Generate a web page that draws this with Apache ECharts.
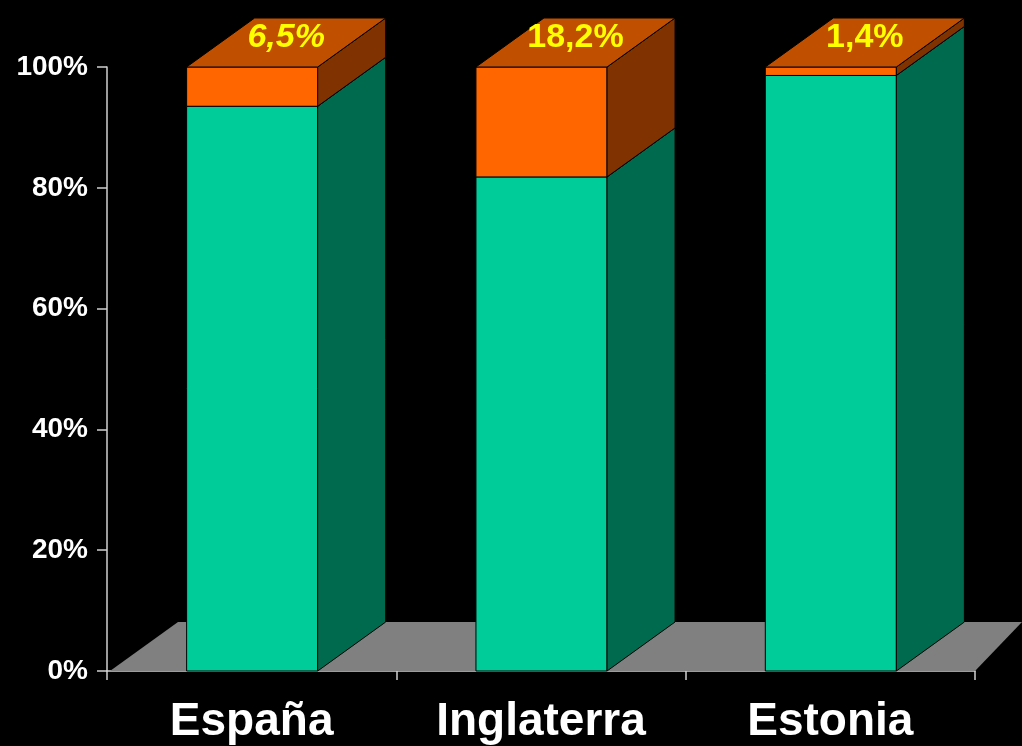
<!DOCTYPE html>
<html>
<head>
<meta charset="utf-8">
<script src="https://cdn.jsdelivr.net/npm/echarts@6/dist/echarts.min.js"></script>
<style>
  html, body { margin: 0; padding: 0; background: #000; }
  #chart { width: 1022px; height: 746px; }
</style>
</head>
<body>
<div id="chart"></div>
<script>
// datos
const countries = ['España', 'Inglaterra', 'Estonia']
const restShare = [93.5, 81.8, 98.6]
const topShare = [6.5, 18.2, 1.4]
const yTicks = [0, 20, 40, 60, 80, 100]

const font = 'Arial, "Liberation Sans", sans-serif'
const depthX = 68
const depthY = 49
const barRatio = 0.453

const chart = echarts.init(document.getElementById('chart'))

function box(api, idx, lo, hi, colors, withTop) {
  const band = api.size([1, 0])[0]
  const w = band * barRatio
  const c = api.coord([idx, lo])
  const t = api.coord([idx, hi])
  const x0 = c[0] - w / 2 + 0.5
  const x1 = x0 + w
  const y0 = c[1]
  const y1 = t[1]
  const line = { stroke: '#000', lineWidth: 1 }
  const kids = [
    { type: 'polygon', shape: { points: [[x0, y0], [x1, y0], [x1, y1], [x0, y1]] },
      style: Object.assign({ fill: colors[0] }, line) },
    { type: 'polygon', shape: { points: [[x1, y0], [x1 + depthX, y0 - depthY], [x1 + depthX, y1 - depthY], [x1, y1]] },
      style: Object.assign({ fill: colors[1] }, line) }
  ]
  if (withTop) {
    kids.push({ type: 'polygon', shape: { points: [[x0, y1], [x1, y1], [x1 + depthX, y1 - depthY], [x0 + depthX, y1 - depthY]] },
      style: Object.assign({ fill: colors[2] }, line) })
  }
  return { x0, x1, y1, kids }
}

const option = {
  backgroundColor: '#000',
  animation: false,
  grid: { left: 107, right: 47, top: 67, bottom: 75 },
  xAxis: {
    type: 'category',
    data: countries,
    boundaryGap: true,
    axisLine: { lineStyle: { color: '#d0d0d0', width: 1.5 } },
    axisTick: { show: true, length: 9, lineStyle: { color: '#d0d0d0', width: 1.5 } },
    axisLabel: { color: '#fff', fontSize: 46, fontWeight: 'bold', fontFamily: font, margin: 28 }
  },
  yAxis: {
    type: 'value',
    min: yTicks[0],
    max: yTicks[yTicks.length - 1],
    interval: yTicks[1] - yTicks[0],
    splitLine: { show: false },
    axisLine: { show: true, lineStyle: { color: '#d0d0d0', width: 1.5 } },
    axisTick: { show: true, length: 10, lineStyle: { color: '#d0d0d0', width: 1.5 } },
    axisLabel: { color: '#fff', fontSize: 28, fontWeight: 'bold', fontFamily: font, margin: 19, formatter: '{value}%', padding: [3, 0, 0, 0] }
  },
  series: [
    {
      // suelo gris
      type: 'custom',
      data: [[0]],
      z: 1,
      renderItem: function (params, api) {
        const cs = params.coordSys
        const yb = cs.y + cs.height
        const xl = cs.x + 3
        const xr = cs.x + cs.width
        return {
          type: 'polygon',
          shape: { points: [[xl, yb], [xl + depthX, yb - depthY], [xr + 47, yb - depthY], [xr, yb]] },
          style: { fill: '#808080' }
        }
      }
    },
    {
      type: 'custom',
      z: 2,
      data: countries.map((c, i) => [i, 0, restShare[i]]),
      renderItem: function (params, api) {
        const b = box(api, api.value(0), api.value(1), api.value(2), ['#00cc99', '#006a4e', '#00cc99'], false)
        return { type: 'group', children: b.kids }
      }
    },
    {
      type: 'custom',
      z: 3,
      data: countries.map((c, i) => [i, restShare[i], restShare[i] + topShare[i], topShare[i]]),
      renderItem: function (params, api) {
        const i = api.value(0)
        const b = box(api, i, api.value(1), api.value(2), ['#ff6600', '#803300', '#c05000'], true)
        const txt = api.value(3).toFixed(1).replace('.', ',') + '%'
        b.kids.push({
          type: 'text',
          style: {
            text: txt,
            x: (b.x0 + b.x1) / 2 + depthX / 2,
            y: b.y1 - depthY / 2 - 5,
            fill: '#ffff00',
            font: (i === 0 ? 'italic ' : '') + 'bold 34px ' + font,
            align: 'center',
            verticalAlign: 'middle'
          }
        })
        return { type: 'group', children: b.kids }
      }
    }
  ]
}

chart.setOption(option)
</script>
</body>
</html>
